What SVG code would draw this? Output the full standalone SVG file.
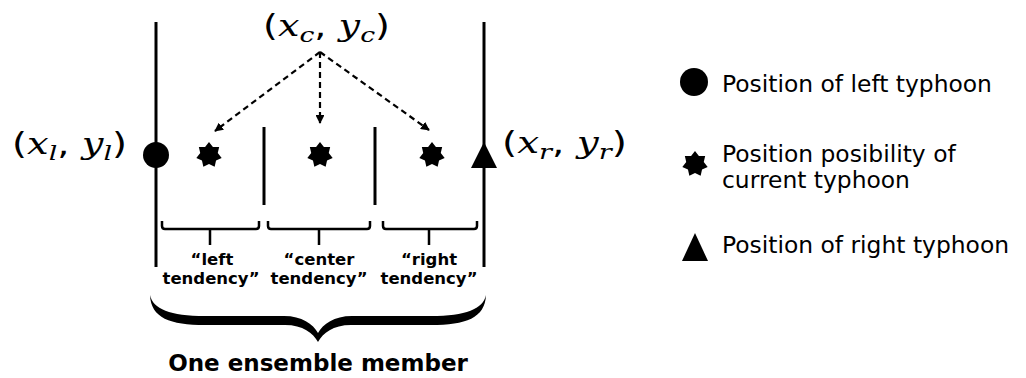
<svg xmlns="http://www.w3.org/2000/svg" width="1026" height="378" viewBox="0 0 1026 378">
<style>
.ln{stroke:#000;stroke-width:3;fill:none}
.br{stroke:#000;stroke-width:2.5;fill:none;stroke-linejoin:round}
.dash{stroke:#000;stroke-width:2.2;fill:none;stroke-dasharray:6,4}
.math{font-family:"DejaVu Sans",sans-serif;font-size:30px;fill:#000}
.var{font-family:"DejaVu Serif",serif;font-style:italic}
.lab{font-family:"DejaVu Sans",sans-serif;font-weight:bold;font-size:16.5px;fill:#000;text-anchor:middle}
.leg{font-family:"DejaVu Sans",sans-serif;font-size:23.4px;fill:#000}
</style>
<defs>
<path id="star" d="M0,-13 L3.91,-8.11 L10.16,-8.11 L8.77,-2 L12.67,2.89 L7.04,5.61 L5.64,11.71 L0,9 L-5.64,11.71 L-7.04,5.61 L-12.67,2.89 L-8.77,-2 L-10.16,-8.11 L-3.91,-8.11 Z" fill="#000"/>
<marker id="ah" viewBox="0 0 10 10" refX="9" refY="5" markerWidth="4" markerHeight="4" orient="auto" markerUnits="strokeWidth">
<path d="M0,0 L10,5 L0,10 Z" fill="#000"/>
</marker>
</defs>
<rect width="1026" height="378" fill="#fff"/>
<g id="frame">
<line class="ln" x1="156" y1="22" x2="156" y2="267"/>
<line class="ln" x1="484" y1="22" x2="484" y2="267"/>
<line class="ln" x1="264" y1="127" x2="264" y2="205"/>
<line class="ln" x1="375" y1="127" x2="375" y2="205"/>
</g>
<g id="center-label">
<text class="math" x="263" y="36" textLength="127" lengthAdjust="spacingAndGlyphs">(<tspan class="var">x</tspan><tspan class="var" font-size="21" dy="6">c</tspan><tspan dy="-6">, </tspan><tspan class="var">y</tspan><tspan class="var" font-size="21" dy="6">c</tspan><tspan dy="-6">)</tspan></text>
</g>
<g id="left-label">
<text class="math" x="12" y="154" textLength="115" lengthAdjust="spacingAndGlyphs">(<tspan class="var">x</tspan><tspan class="var" font-size="21" dy="6">l</tspan><tspan dy="-6">, </tspan><tspan class="var">y</tspan><tspan class="var" font-size="21" dy="6">l</tspan><tspan dy="-6">)</tspan></text>
</g>
<g id="right-label">
<text class="math" x="502" y="153" textLength="125" lengthAdjust="spacingAndGlyphs">(<tspan class="var">x</tspan><tspan class="var" font-size="21" dy="6">r</tspan><tspan dy="-6">, </tspan><tspan class="var">y</tspan><tspan class="var" font-size="21" dy="6">r</tspan><tspan dy="-6">)</tspan></text>
</g>
<g id="left-typhoon"><circle cx="156" cy="155" r="13" fill="#000"/></g>
<g id="star-left"><use href="#star" x="209" y="155"/></g>
<g id="star-center"><use href="#star" x="320" y="155"/></g>
<g id="star-right"><use href="#star" x="432" y="155"/></g>
<g id="right-typhoon"><polygon points="484,142 497,168 471,168" fill="#000"/></g>
<g id="connectors">
<line class="dash" x1="320" y1="52" x2="215" y2="131" marker-end="url(#ah)"/>
<line class="dash" x1="320" y1="52" x2="320" y2="123" marker-end="url(#ah)"/>
<line class="dash" x1="320" y1="52" x2="429" y2="130" marker-end="url(#ah)"/>
</g>
<g id="left-tendency">
<path class="br" d="M162,221 L162,226 Q162,229 165,229 L256,229 Q259,229 259,226 L259,221 M210,229 L210,245"/>
<text class="lab" x="212" y="265">“left</text>
<text class="lab" x="211" y="284">tendency”</text>
</g>
<g id="center-tendency">
<path class="br" d="M268,221 L268,226 Q268,229 271,229 L367,229 Q370,229 370,226 L370,221 M319,229 L319,245"/>
<text class="lab" x="319" y="265">“center</text>
<text class="lab" x="319" y="284">tendency”</text>
</g>
<g id="right-tendency">
<path class="br" d="M383,221 L383,226 Q383,229 386,229 L474,229 Q477,229 477,226 L477,221 M429,229 L429,245"/>
<text class="lab" x="429" y="265">“right</text>
<text class="lab" x="429" y="284">tendency”</text>
</g>
<g id="ensemble">
<path d="M150,295 C151,318 170,325 205,325 L285,325 C303,325 313,333 318,342 C323,333 333,325 351,325 L431,325 C466,325 485,318 486,295 C483,309 466,316 431,316 L352,316 C334,316 323,324 318,333 C313,324 302,316 284,316 L205,316 C170,316 153,309 150,295 Z" fill="#000"/>
<text x="318" y="371" font-family="DejaVu Sans, sans-serif" font-weight="bold" font-size="23" text-anchor="middle">One ensemble member</text>
</g>
<g id="legend-left">
<circle cx="694" cy="82" r="14" fill="#000"/>
<text class="leg" x="722" y="92">Position of left typhoon</text>
</g>
<g id="legend-current">
<use href="#star" x="695" y="164"/>
<text class="leg" x="722" y="162">Position posibility of</text>
<text class="leg" x="722" y="188">current typhoon</text>
</g>
<g id="legend-right">
<polygon points="695,233 708,261 682,261" fill="#000"/>
<text class="leg" x="722" y="253">Position of right typhoon</text>
</g>
</svg>
